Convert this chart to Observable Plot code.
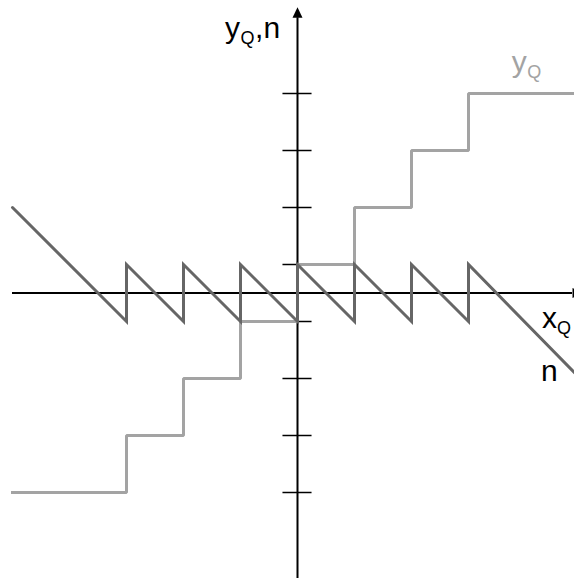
<!DOCTYPE html>
<html>
<head>
<meta charset="utf-8">
<script src="https://cdn.jsdelivr.net/npm/d3@7"></script>
<script src="https://cdn.jsdelivr.net/npm/@observablehq/plot@0.6"></script>
<style>
  html, body { margin: 0; padding: 0; background: #fff; overflow: hidden; }
  #chart svg { display: block; }
</style>
</head>
<body>
<div id="chart"></div>
<script>
// Mid-rise quantizer: input x, quantized output y_Q and quantization error n.
// Output staircase: value held from each x break to the next.
const yqX = [-5, -3, -2, -1, 0, 1, 2, 3, 4.86];
const yqY = [-3.5, -2.5, -1.5, -0.5, 0.5, 1.5, 2.5, 3.5, 3.5];

// Quantization error sawtooth (vertical jumps at each break).
const nX = [-5, -3, -3, -2, -2, -1, -1, 0, 0, 1, 1, 2, 2, 3, 3, 4.86];
const nY = [1.5, -0.5, 0.5, -0.5, 0.5, -0.5, 0.5, -0.5, 0.5, -0.5, 0.5, -0.5, 0.5, -0.5, 0.5, -1.4];

// Output levels marked on the vertical axis.
const levelTicks = [-3.5, -2.5, -1.5, -0.5, 0.5, 1.5, 2.5, 3.5];

// Axis extents (data units).
const xAxisRange = [-5, 4.825];
const yAxisRange = [-5.02, 4.83];

const yq = yqX.map((x, i) => ({x, y: yqY[i]}));
const nErr = nX.map((x, i) => ({x, y: nY[i]}));

// Filled arrowheads, drawn with the tip away from the dot position.
const arrowUp = {draw(ctx) { ctx.moveTo(0, -10.5); ctx.lineTo(5, 0); ctx.lineTo(-5, 0); ctx.closePath(); }};
const arrowRight = {draw(ctx) { ctx.moveTo(10.5, 0); ctx.lineTo(0, -5); ctx.lineTo(0, 5); ctx.closePath(); }};

const font = "'Liberation Sans', Arial, sans-serif";
const big = 30, small = 18;
const yqColor = "#a3a3a3", nColor = "#666666";

const label = (t, x, y, opts = {}) =>
  Plot.text([t], {x, y, text: d => d, textAnchor: "start", lineAnchor: "bottom", fontSize: big, fill: "#000", ...opts});

const chart = Plot.plot({
  width: 574,
  height: 578,
  margin: 0,
  style: {fontFamily: font, background: "#fff"},
  x: {domain: [-297 / 57, 277 / 57], axis: null},
  y: {domain: [-285.5 / 57, 292.5 / 57], axis: null},
  marks: [
    // axes
    Plot.ruleY([0], {x1: xAxisRange[0], x2: xAxisRange[1], stroke: "#000", strokeWidth: 2}),
    Plot.ruleX([0], {y1: yAxisRange[0], y2: yAxisRange[1], stroke: "#000", strokeWidth: 2}),
    Plot.dot([{x: 0, y: yAxisRange[1]}], {x: "x", y: "y", symbol: arrowUp, fill: "#000", stroke: null}),
    Plot.dot([{x: xAxisRange[1], y: 0}], {x: "x", y: "y", symbol: arrowRight, fill: "#000", stroke: null}),
    Plot.ruleY(levelTicks, {y: d => d, x1: -0.255, x2: 0.255, stroke: "#000", strokeWidth: 1.5}),

    // quantized output
    Plot.line(yq, {x: "x", y: "y", curve: "step-after", stroke: yqColor, strokeWidth: 3, strokeLinejoin: "miter", strokeLinecap: "square"}),
    // quantization error
    Plot.line(nErr, {x: "x", y: "y", stroke: nColor, strokeWidth: 3, strokeLinejoin: "miter", strokeMiterlimit: 10}),

    // vertical axis label  y_Q,n
    label("y", -1.27, 4.47),
    label("Q", -1.27, 4.47, {dx: 15.5, dy: 6, fontSize: small}),
    label(",n", -1.27, 4.47, {dx: 30}),

    // horizontal axis label  x_Q
    label("x", 4.29, -0.62),
    label("Q", 4.29, -0.62, {dx: 15, dy: 6, fontSize: small}),

    // series labels
    label("y", 3.76, 3.88, {fill: yqColor}),
    label("Q", 3.76, 3.88, {dx: 15.5, dy: 6, fontSize: small, fill: yqColor}),
    label("n", 4.27, -1.55)
  ]
});

document.getElementById("chart").appendChild(chart);
</script>
</body>
</html>
